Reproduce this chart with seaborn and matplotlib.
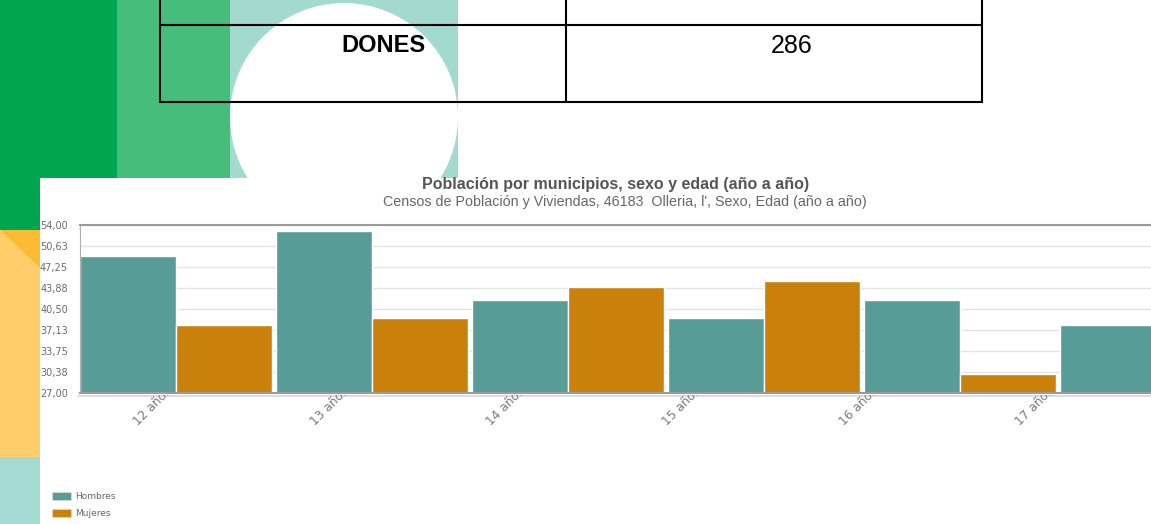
import matplotlib
matplotlib.use("Agg")
import matplotlib.pyplot as plt
import seaborn as sns
import pandas as pd
from matplotlib.patches import Rectangle, Circle, Polygon, Patch
from matplotlib.transforms import Bbox

# ---------------- data ----------------
edades = ["12 años", "13 años", "14 años", "15 años", "16 años", "17 años"]
hombres = [49, 53, 42, 39, 42, 38]
mujeres = [38, 39, 44, 45, 30]          # 17 años queda fuera del recorte
sexos = ["Hombres", "Mujeres"]
colores = ["#579C97", "#C9810B"]
y_ticks = [27.0, 30.375, 33.75, 37.125, 40.5, 43.875, 47.25, 50.625, 54.0]
y_labels = ["27,00", "30,38", "33,75", "37,13", "40,50", "43,88", "47,25", "50,63", "54,00"]
titulo = "Población por municipios, sexo y edad (año a año)"
subtitulo = "Censos de Población y Viviendas, 46183  Olleria, l', Sexo, Edad (año a año)"
tabla_etiqueta = "DONES"
tabla_valor = "286"

rows = []
for i, e in enumerate(edades):
    rows.append({"edad": e, "sexo": sexos[0], "valor": hombres[i]})
    if i < len(mujeres):
        rows.append({"edad": e, "sexo": sexos[1], "valor": mujeres[i]})
df = pd.DataFrame(rows)

sns.set_style("white")
plt.rcParams["font.family"] = ["DejaVu Sans"]

W, H = 1151, 524
fig = plt.figure(figsize=(W / 100, H / 100), dpi=100)

# ---------------- slide background ----------------
bg = fig.add_axes([0, 0, 1, 1], zorder=0)
bg.set_xlim(0, W)
bg.set_ylim(H, 0)
bg.axis("off")
bg.add_patch(Rectangle((0, 0), 117, 231, color="#00A64F", lw=0))
bg.add_patch(Rectangle((117, 0), 113, 180, color="#47BD7C", lw=0))
bg.add_patch(Rectangle((230, 0), 228, 180, color="#A2DAD0", lw=0))
bg.add_patch(Circle((344, 117), 114, color="white", lw=0))
bg.add_patch(Rectangle((0, 230), 40, 228, color="#FFCD69", lw=0))
bg.add_patch(Polygon([(0, 230), (40, 230), (40, 268)], closed=True, color="#FBBB33", lw=0))
bg.add_patch(Rectangle((0, 457), 40, 70, color="#A3DAD1", lw=0))
bg.add_patch(Rectangle((40, 178), W - 40, H - 178, color="white", lw=0))
# table
for y in (25, 102):
    bg.plot([159, 983], [y, y], color="black", lw=1.5, solid_capstyle="butt")
for x in (160, 566, 982):
    bg.plot([x, x], [0, 103], color="black", lw=1.5, solid_capstyle="butt")
bg.text(383, 46, tabla_etiqueta, ha="center", va="center", fontsize=17,
        fontweight="bold", family="Liberation Sans", color="black")
bg.text(792, 46, tabla_valor, ha="center", va="center", fontsize=18,
        family="Liberation Sans", color="black")
# axis shadows
bg.plot([78, W], [395.5, 395.5], color="#D6D6D6", lw=1.2)
bg.plot([78, W], [227.5, 227.5], color="#E2E2E2", lw=1.0)

# ---------------- chart ----------------
ax_l, ax_r, ax_t, ax_b = 80, W, 225, 393
ax = fig.add_axes([ax_l / W, 1 - ax_b / H, (ax_r - ax_l) / W, (ax_b - ax_t) / H], zorder=1)
ax.set_facecolor("white")
sns.barplot(data=df, x="edad", y="valor", hue="sexo", order=edades, hue_order=sexos,
            palette=colores, width=0.98, gap=0, edgecolor="white", linewidth=1,
            saturation=1, errorbar=None, legend=False, ax=ax)
ax.set_xlim(-0.49, -0.49 + (ax_r - ax_l) / 196)
ax.set_ylim(y_ticks[0], y_ticks[-1])
ax.set_yticks(y_ticks)
ax.set_yticklabels(y_labels)
ax.set_xticks([i + 0.5 for i in range(len(edades) - 1)])
ax.set_xticklabels([])
ax.set_xlabel("")
ax.set_ylabel("")
ax.yaxis.grid(True, color="#E4E4E4", lw=1)
ax.set_axisbelow(True)
ax.tick_params(axis="y", length=4.3, width=0.8, color="#A8A8A8", labelsize=7,
               labelcolor="#6A6A6A", pad=4.3)
ax.tick_params(axis="x", length=3, width=0.8, color="#B8B8B8")
ax.spines["right"].set_visible(False)
ax.spines["top"].set_color("#9A9A9A")
ax.spines["top"].set_linewidth(1.5)
ax.spines["bottom"].set_color("#9A9A9A")
ax.spines["bottom"].set_linewidth(1.5)
ax.spines["left"].set_color("#B0B0B0")
ax.spines["left"].set_linewidth(0.8)

# rotated category labels (partially hidden under the axis line as in the source)
clip = Bbox.from_extents(0, 0, W, H - 395)
for i, e in enumerate(edades):
    t = fig.text(0.9 * i - 0.03, (ax_b - 389) / (ax_b - ax_t), e, transform=ax.get_xaxis_transform(),
                 rotation=45, ha="right", va="center", rotation_mode="anchor",
                 fontsize=8.8, color="#7A7A7A")
    t.set_clip_on(True)
    t.set_clip_box(clip)

# titles
fig.text(616 / W, 1 - 185 / H, titulo, ha="center", va="center", fontsize=11.5,
         fontweight="bold", color="#555555", family="Liberation Sans")
fig.text(625 / W, 1 - 202 / H, subtitulo, ha="center", va="center", fontsize=10.3,
         color="#666666", family="Liberation Sans")

# legend
handles = [Patch(facecolor=c, edgecolor="#DDDDDD", lw=0.5) for c in colores]
fig.legend(handles, sexos, loc="upper left", bbox_to_anchor=(46 / W, 1 - 486 / H),
           frameon=False, fontsize=6.5, handlelength=2.1, handleheight=1.0,
           labelspacing=0.85, handletextpad=0.45, labelcolor="#666666", borderpad=0.2)

fig.savefig("out.png", dpi=100, facecolor="white")
